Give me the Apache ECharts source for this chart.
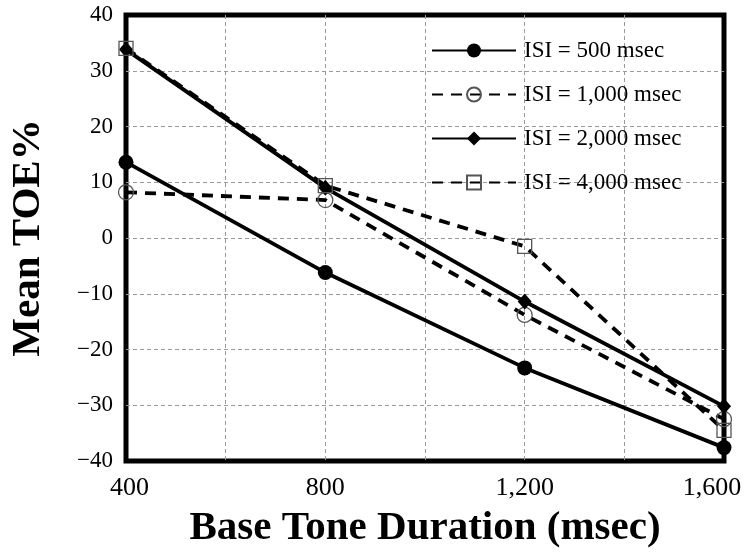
<!DOCTYPE html>
<html>
<head>
<meta charset="utf-8">
<script src="https://cdn.jsdelivr.net/npm/echarts@6/dist/echarts.min.js"></script>
<style>
  html, body { margin: 0; padding: 0; background: #fff; }
  #chart { width: 745px; height: 560px; }
</style>
</head>
<body>
<div id="chart"></div>
<script>
// Base tone durations (msec) and mean TOE% for each inter-stimulus interval
var durations = [400, 800, 1200, 1600];
var isi500 = [13.6, -6.2, -23.3, -37.6];
var isi1000 = [8.2, 6.8, -13.8, -32.5];
var isi2000 = [33.8, 9.0, -11.4, -30.2];
var isi4000 = [34.0, 9.4, -1.5, -34.5];

var seriesNames = ['ISI = 500 msec', 'ISI = 1,000 msec', 'ISI = 2,000 msec', 'ISI = 4,000 msec'];

var xTickValues = [400, 800, 1200, 1600];
var xTickLabels = ['400', '800', '1,200', '1,600'];

var serif = "'Liberation Serif', 'Times New Roman', serif";

function pairs(xs, ys) {
  return xs.map(function (x, i) { return [x, ys[i]]; });
}

function makeSeries(name, values, opts) {
  return {
    name: name,
    type: 'line',
    data: pairs(durations, values),
    symbol: opts.symbol,
    symbolSize: opts.size,
    showSymbol: true,
    clip: false,
    lineStyle: { color: '#000', width: 3.8, type: opts.dashed ? [11, 8] : 'solid' },
    itemStyle: opts.open
      ? { color: 'rgba(255,255,255,0)', borderColor: '#555', borderWidth: 1.3 }
      : { color: '#000', borderColor: '#000', borderWidth: 0 },
    emphasis: { disabled: true },
    animation: false
  };
}

var gridLine = { show: true, showMinLine: false, showMaxLine: false,
  lineStyle: { color: '#9a9a9a', width: 1, type: [4, 3] } };

var chart = echarts.init(document.getElementById('chart'), null, { renderer: 'canvas' });

chart.setOption({
  backgroundColor: '#fff',
  animation: false,
  grid: {
    left: 126, right: 21, top: 15, bottom: 99,
    show: true, borderColor: '#000', borderWidth: 5, backgroundColor: 'transparent'
  },
  legend: {
    orient: 'vertical',
    left: 431,
    top: 37,
    padding: 0,
    itemWidth: 84,
    itemHeight: 17.5,
    itemGap: 17,
    selectedMode: false,
    textStyle: { fontFamily: serif, fontSize: 23, color: '#000', lineHeight: 27, padding: [0, 0, 0, 3] },
    data: seriesNames
  },
  xAxis: {
    type: 'value',
    min: 400,
    max: 1600,
    interval: 200,
    axisLine: { show: false },
    axisTick: { show: false },
    splitLine: gridLine,
    axisLabel: {
      margin: 14,
      color: '#000',
      fontFamily: serif,
      fontSize: 26,
      showMinLabel: true,
      showMaxLabel: true,
      formatter: function (v) {
        var i = xTickValues.indexOf(v);
        if (i < 0) return '';
        if (i === 0) return '{a|' + xTickLabels[i] + '}';
        if (i === xTickValues.length - 1) return '{b|' + xTickLabels[i] + '}';
        return xTickLabels[i];
      },
      rich: {
        a: { fontFamily: serif, fontSize: 26, color: '#000', padding: [0, 0, 0, 7] },
        b: { fontFamily: serif, fontSize: 26, color: '#000', padding: [0, 24, 0, 0] }
      }
    },
    name: 'Base Tone Duration (msec)',
    nameLocation: 'middle',
    nameGap: 47,
    nameTextStyle: { fontFamily: serif, fontSize: 41, fontWeight: 'bold', color: '#000' }
  },
  yAxis: {
    type: 'value',
    min: -40,
    max: 40,
    interval: 10,
    axisLine: { show: false },
    axisTick: { show: false },
    splitLine: gridLine,
    axisLabel: {
      margin: 13,
      color: '#000',
      fontFamily: serif,
      fontSize: 23,
      formatter: function (v) { return String(v).replace('-', '\u2212'); }
    },
    name: 'Mean TOE%',
    nameLocation: 'middle',
    nameGap: 77,
    nameTextStyle: { fontFamily: serif, fontSize: 41, fontWeight: 'bold', color: '#000' }
  },
  series: [
    makeSeries(seriesNames[0], isi500, { symbol: 'circle', size: 15, dashed: false, open: false }),
    makeSeries(seriesNames[1], isi1000, { symbol: 'circle', size: 15, dashed: true, open: true }),
    makeSeries(seriesNames[2], isi2000, { symbol: 'diamond', size: [14, 16], dashed: false, open: false }),
    makeSeries(seriesNames[3], isi4000, { symbol: 'rect', size: 14, dashed: true, open: true })
  ]
});
</script>
</body>
</html>
